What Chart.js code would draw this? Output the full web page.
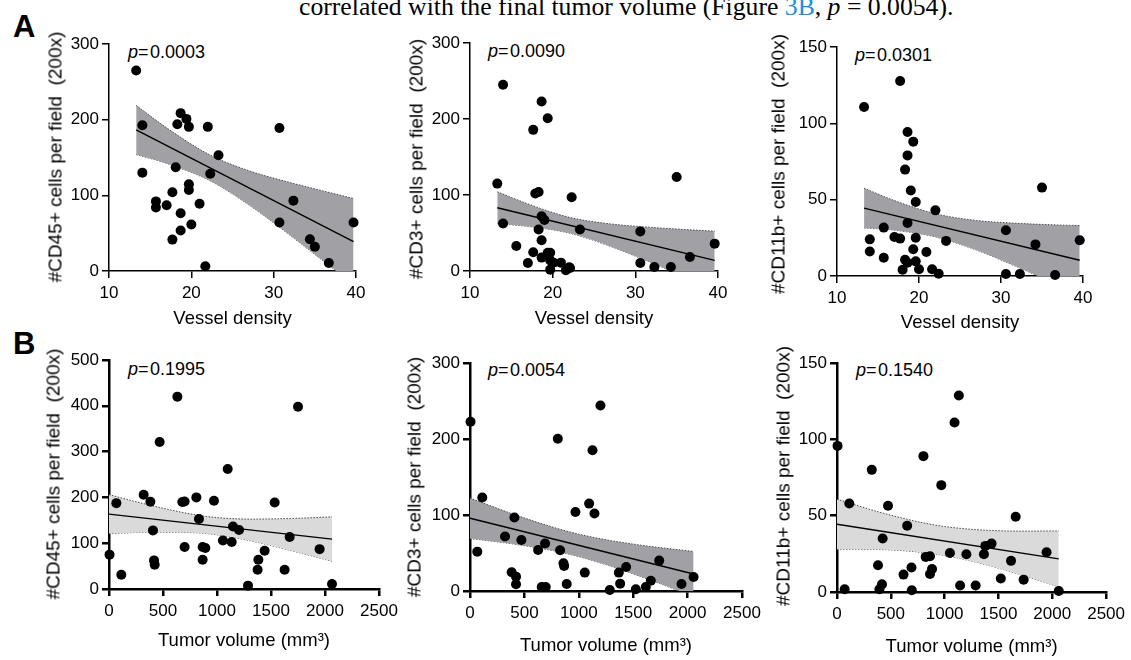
<!DOCTYPE html>
<html><head><meta charset="utf-8">
<script src="https://cdn.jsdelivr.net/npm/chart.js@4.4.1/dist/chart.umd.min.js"></script>
<style>
html,body{margin:0;padding:0;background:#fff;width:1131px;height:660px;overflow:hidden;position:relative;font-family:"Liberation Sans",Arial,sans-serif;color:#000;}
canvas{position:absolute;}
.lbl{position:absolute;font-weight:bold;font-size:31px;line-height:31px;}
.pv{position:absolute;font-size:18px;line-height:18px;white-space:nowrap;}
.yt{position:absolute;font-size:19px;line-height:19px;white-space:pre;transform:translate(-50%,-50%) rotate(-90deg);}
.cap{position:absolute;font-family:"Liberation Serif","Times New Roman",serif;font-size:25.7px;line-height:26px;white-space:nowrap;left:299px;top:-6.5px;}
.cap .ref{color:#1a8fe3;}
</style></head><body>
<div class="cap">correlated with the final tumor volume (Figure <span class="ref">3B</span>, <i>p</i> = 0.0054).</div>
<div class="lbl" style="left:13px;top:11px;">A</div>
<div class="lbl" style="left:13px;top:328px;">B</div>
<div class="pv" style="left:128px;top:43px;"><i>p</i>=&#8202;0.0003</div>
<div class="pv" style="left:488px;top:42px;"><i>p</i>=&#8202;0.0090</div>
<div class="pv" style="left:855px;top:46px;"><i>p</i>=&#8202;0.0301</div>
<div class="pv" style="left:128px;top:360px;"><i>p</i>=&#8202;0.1995</div>
<div class="pv" style="left:488px;top:361px;"><i>p</i>=&#8202;0.0054</div>
<div class="pv" style="left:856px;top:361px;"><i>p</i>=&#8202;0.1540</div>
<script>
// ---------- tick labels ----------
const vesselTicks = [10, 20, 30, 40];
const volumeTicks = [0, 500, 1000, 1500, 2000, 2500];
const cd45VesselTicks = [0, 100, 200, 300];
const cd3Ticks = [0, 100, 200, 300];
const cd11bTicks = [0, 50, 100, 150];
const cd45VolumeTicks = [0, 100, 200, 300, 400, 500];

// ---------- A1: CD45+ vs vessel density ----------
const a1X = [13.3, 14.05, 14.05, 15.7, 15.7, 17.0, 17.7, 17.7, 18.1, 18.3, 18.7, 18.7, 18.7, 19.4, 19.7, 19.7, 19.7, 20.0, 21.0, 21.7, 22.0, 22.3, 23.3, 30.7, 30.7, 32.4, 34.4, 35.0, 36.7, 39.7];
const a1Y = [265, 192.6, 130, 92, 84, 87, 104, 41.5, 137, 194, 208.6, 76.4, 53.5, 201, 190.5, 114.5, 107, 61.4, 88.8, 6.2, 190.5, 128.6, 153, 189, 64, 93, 42, 32, 10.6, 64];
const a1FitX = [13.3, 39.7];
const a1FitY = [186.4, 38.9];
const a1BandX = [13.3, 17, 22.2, 27, 32, 36, 39.7];
const a1BandUp = [218.9, 189.2, 153.7, 132.5, 116.9, 105.8, 95.9];
const a1BandLo = [153.9, 142.2, 119.7, 87.3, 47.1, 13.4, -18.1];

// ---------- A2: CD3+ vs vessel density ----------
const a2X = [13.3, 14.0, 14.0, 15.6, 17.0, 17.65, 17.65, 17.9, 18.3, 18.3, 18.66, 18.66, 18.66, 18.66, 19.0, 19.4, 19.4, 19.7, 19.7, 19.7, 20.1, 21.0, 21.6, 22.0, 22.1, 22.3, 23.3, 30.6, 30.6, 32.3, 34.3, 35.0, 36.6, 39.6];
const a2Y = [115, 245, 62.5, 33, 10.6, 185.7, 24.6, 102, 104, 54.5, 223, 72, 40.5, 17.6, 67, 201, 24, 24, 14, 1.8, 11, 11, 1, 5, 4, 97, 54.5, 52, 10.6, 5.3, 5.3, 123.6, 18.5, 36];
const a2FitX = [13.3, 39.6];
const a2FitY = [83.2, 14.0];
const a2BandX = [13.3, 17, 22, 27, 32, 36, 39.6];
const a2BandUp = [104.2, 88.3, 70.7, 62.0, 57.4, 54.6, 52.4];
const a2BandLo = [62.2, 58.7, 49.9, 32.4, 10.6, -7.6, -24.4];

// ---------- A3: CD11b+ vs vessel density ----------
const a3X = [13.3, 14.0, 14.0, 15.7, 15.7, 17.0, 17.7, 17.7, 18.0, 18.3, 18.3, 18.6, 18.6, 18.6, 18.6, 19.0, 19.3, 19.3, 19.6, 19.6, 19.6, 20.0, 20.9, 21.6, 22.0, 22.4, 23.3, 30.6, 30.6, 32.3, 34.2, 35.0, 36.6, 39.6];
const a3Y = [110.7, 24, 16, 31.7, 12, 25.5, 24.5, 127.7, 4.1, 69.7, 10.7, 94.3, 79, 34.7, 8.7, 56, 88, 17.5, 25, 48.5, 9.6, 4.4, 15.7, 4.4, 43, 1.5, 23, 30, 1.3, 1.3, 20.7, 57.9, 0.7, 23.4];
const a3FitX = [13.3, 39.6];
const a3FitY = [44.5, 10.3];
const a3BandX = [13.3, 17, 22, 27, 32, 36, 39.6];
const a3BandUp = [57.5, 49.4, 40.8, 36.4, 34.5, 33.6, 33.0];
const a3BandLo = [31.5, 30.0, 25.6, 17.0, 5.9, -3.6, -12.4];

// ---------- B1: CD45+ vs tumor volume ----------
const b1X = [5, 68, 114, 321, 383, 407, 417, 423, 469, 633, 679, 700, 700, 809, 833, 867, 867, 892, 972, 1055, 1099, 1136, 1148, 1204, 1287, 1376, 1383, 1441, 1534, 1626, 1673, 1750, 1950, 2065];
const b1Y = [75, 187.5, 31, 205.7, 190.4, 128, 62.5, 53, 321, 420, 190, 191, 91.6, 200, 153, 91.6, 64, 89.4, 192.6, 106, 262, 102.5, 136.6, 129, 7.3, 42, 64, 83.6, 189, 42, 113.4, 398, 87, 10.9];
const b1FitX = [0, 2065];
const b1FitY = [163.5, 109];
const b1BandX = [0, 400, 800, 1000, 1300, 1700, 2065];
const b1BandUp = [206, 181.8, 162.0, 155.9, 152.6, 154.1, 157.5];
const b1BandLo = [121, 124.0, 122.8, 118.3, 105.8, 83.1, 60.5];

// ---------- B2: CD3+ vs tumor volume ----------
const b2X = [5, 67, 113, 322, 383, 408, 423, 423, 472, 626, 659, 690, 696, 807, 828, 859, 865, 889, 969, 1055, 1095, 1126, 1144, 1199, 1285, 1368, 1380, 1435, 1524, 1616, 1662, 1739, 1944, 2055];
const b2Y = [222.7, 51.8, 123, 71.6, 24.6, 96.6, 18.9, 8.8, 67.2, 54, 5.3, 62.4, 5.3, 200.3, 53.6, 36.5, 33, 9.2, 104, 24.2, 115, 185.3, 101.9, 244, 1.3, 24.2, 9.7, 31.6, 2.2, 5.3, 13.6, 40, 9.2, 18.4];
const b2FitX = [0, 2055];
const b2FitY = [95.7, 22.4];
const b2BandX = [0, 400, 800, 1000, 1300, 1700, 2055];
const b2BandUp = [122.3, 101.0, 82.4, 74.8, 66.2, 57.9, 52.1];
const b2BandLo = [69.1, 61.8, 52.0, 45.2, 32.4, 12.1, -7.3];

// ---------- B3: CD11b+ vs tumor volume ----------
const b3X = [5, 71, 114, 323, 381, 394, 418, 424, 474, 618, 652, 692, 695, 803, 824, 864, 864, 883, 969, 1049, 1092, 1132, 1144, 1202, 1288, 1365, 1378, 1436, 1522, 1617, 1660, 1734, 1947, 2060];
const b3Y = [95.7, 1.8, 58, 80, 17.5, 1.8, 5, 35, 56.5, 11.4, 43.4, 16, 1.1, 89, 23, 23.4, 11.8, 15.1, 70, 25.6, 111, 128.7, 4.2, 24.7, 4.2, 24.7, 30.2, 31.7, 8.8, 20.4, 49.3, 8.1, 26, 0.7];
const b3FitX = [0, 2060];
const b3FitY = [44.4, 21.7];
const b3BandX = [0, 400, 800, 1000, 1300, 1700, 2060];
const b3BandUp = [60.8, 52.2, 45.3, 42.9, 40.8, 39.9, 40.0];
const b3BandLo = [28.0, 27.8, 25.9, 23.9, 19.4, 11.5, 3.4];

// ---------- titles ----------
const vesselTitle = 'Vessel density';
const volumeTitle = 'Tumor volume (mm\u00B3)';
const cd45Title = '#CD45+ cells per field  (200x)';
const cd3Title = '#CD3+ cells per field  (200x)';
const cd11bTitle = '#CD11b+ cells per field  (200x)';

const FAMILY = '"Liberation Sans", Arial, sans-serif';
const DARK = '#a1a1a5';
const LIGHT = '#dadada';

const zip = (xs, ys) => xs.map((v, i) => ({x: v, y: ys[i]}));

function panel(o) {
  const c = document.createElement('canvas');
  const W = o.yw + (o.right - o.left) + o.pr;
  const H = o.pt + (o.bottom - o.top) + o.xh;
  c.width = W; c.height = H;
  c.style.left = (o.left - o.yw) + 'px';
  c.style.top = (o.top - o.pt) + 'px';
  c.style.width = W + 'px'; c.style.height = H + 'px';
  document.body.appendChild(c);
  // rotated y-axis title as real text
  const t = document.createElement('div');
  t.className = 'yt';
  t.textContent = o.yTitle;
  t.style.left = o.ytx + 'px';
  t.style.top = ((o.top + o.bottom) / 2 + (o.yty || 0)) + 'px';
  document.body.appendChild(t);
  const axis = (ticks, fitFn, pad) => ({
    type: 'linear',
    min: ticks[0], max: ticks[ticks.length - 1],
    afterBuildTicks: s => { s.ticks = ticks.map(v => ({value: v})); },
    ticks: {font: {size: 17, family: FAMILY}, color: '#000', autoSkip: false, maxRotation: 0, padding: pad,
            callback: v => String(v)},
    grid: {display: true, drawOnChartArea: false, drawTicks: true, tickLength: 7, color: '#000', lineWidth: o.lw},
    border: {display: true, color: '#000', width: o.lw},
    afterFit: fitFn
  });
  const x = axis(o.xt, s => { s.height = o.xh; }, 5);
  x.title = {display: true, text: o.xTitle, font: {size: 18.5, family: FAMILY}, color: '#000', padding: 0};
  const y = axis(o.yt, s => { s.width = o.yw; }, 3);
  y.title = {display: false};
  new Chart(c, {
    type: 'scatter',
    data: {datasets: [
      {type: 'scatter', data: zip(o.x, o.y), pointRadius: 5, pointHoverRadius: 5, pointBackgroundColor: '#000', pointBorderWidth: 0, clip: false},
      {type: 'line', showLine: true, data: zip(o.fx, o.fy), borderColor: '#000', borderWidth: 1.4, pointRadius: 0, fill: false},
      {type: 'line', showLine: true, data: zip(o.bx, o.bu), borderColor: '#4a4a4a', borderWidth: 1, borderDash: [1.5, 1.5], pointRadius: 0, fill: '+1', backgroundColor: o.band, cubicInterpolationMode: 'monotone'},
      {type: 'line', showLine: true, data: zip(o.bx, o.bl), borderColor: '#4a4a4a', borderWidth: 1, borderDash: [1.5, 1.5], pointRadius: 0, fill: false, cubicInterpolationMode: 'monotone'}
    ]},
    options: {
      responsive: false, animation: false, devicePixelRatio: 1,
      layout: {padding: {top: o.pt, right: o.pr, left: 0, bottom: 0}},
      plugins: {legend: {display: false}, tooltip: {enabled: false}},
      events: [],
      scales: {x: x, y: y}
    }
  });
}

panel({left: 109, right: 356, top: 44, bottom: 271, yw: 66, xh: 59, pt: 15, pr: 25, lw: 1.5, ytx: 54.5, yty: -1,
  x: a1X, y: a1Y, fx: a1FitX, fy: a1FitY, bx: a1BandX, bu: a1BandUp, bl: a1BandLo, band: DARK,
  xt: vesselTicks, yt: cd45VesselTicks, xTitle: vesselTitle, yTitle: cd45Title});
panel({left: 470, right: 718, top: 43, bottom: 271, yw: 66, xh: 59, pt: 15, pr: 25, lw: 1.5, ytx: 415.5, yty: 2,
  x: a2X, y: a2Y, fx: a2FitX, fy: a2FitY, bx: a2BandX, bu: a2BandUp, bl: a2BandLo, band: DARK,
  xt: vesselTicks, yt: cd3Ticks, xTitle: vesselTitle, yTitle: cd3Title});
panel({left: 837, right: 1083, top: 47, bottom: 276, yw: 71, xh: 58, pt: 15, pr: 25, lw: 1.5, ytx: 777.5, yty: 2,
  x: a3X, y: a3Y, fx: a3FitX, fy: a3FitY, bx: a3BandX, bu: a3BandUp, bl: a3BandLo, band: DARK,
  xt: vesselTicks, yt: cd11bTicks, xTitle: vesselTitle, yTitle: cd11bTitle});
panel({left: 109, right: 379, top: 360, bottom: 589, yw: 68, xh: 63, pt: 15, pr: 25, lw: 2.5, ytx: 52.5, yty: -1,
  x: b1X, y: b1Y, fx: b1FitX, fy: b1FitY, bx: b1BandX, bu: b1BandUp, bl: b1BandLo, band: LIGHT,
  xt: volumeTicks, yt: cd45VolumeTicks, xTitle: volumeTitle, yTitle: cd45Title});
panel({left: 470, right: 742, top: 363, bottom: 591, yw: 68, xh: 66, pt: 15, pr: 25, lw: 2.5, ytx: 414, yty: 0,
  x: b2X, y: b2Y, fx: b2FitX, fy: b2FitY, bx: b2BandX, bu: b2BandUp, bl: b2BandLo, band: DARK,
  xt: volumeTicks, yt: cd3Ticks, xTitle: volumeTitle, yTitle: cd3Title});
panel({left: 837, right: 1108, top: 363, bottom: 592, yw: 67, xh: 66, pt: 15, pr: 22, lw: 2.5, ytx: 782.5, yty: -2,
  x: b3X, y: b3Y, fx: b3FitX, fy: b3FitY, bx: b3BandX, bu: b3BandUp, bl: b3BandLo, band: LIGHT,
  xt: volumeTicks, yt: cd11bTicks, xTitle: volumeTitle, yTitle: cd11bTitle});
</script>
</body></html>
